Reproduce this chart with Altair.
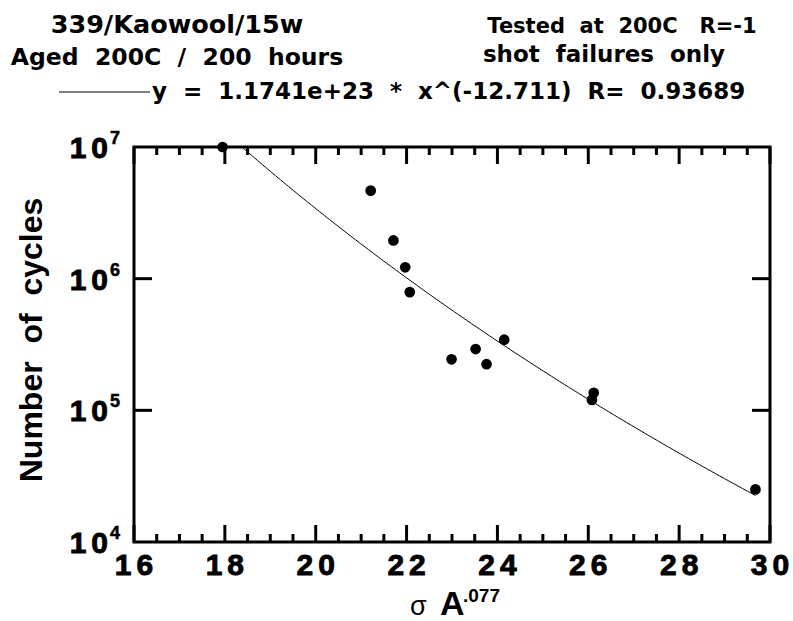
import altair as alt
import numpy as np
import pandas as pd

# ---- data ----
sigma_a = [17.95, 21.21, 21.71, 21.97, 22.07, 22.99, 23.52, 23.76, 24.15, 26.12, 26.08, 29.68]
cycles = [1.0e7, 4.66e6, 1.95e6, 1.22e6, 7.9e5, 2.44e5, 2.92e5, 2.24e5, 3.44e5, 1.36e5, 1.2e5, 2.51e4]

# power-law fit printed on the chart: y = coef * x^exp
fit_coef = 1.1741e23
fit_exp = -12.711
fit_r = 0.93689

x_major = [16, 18, 20, 22, 24, 26, 28, 30]
x_labels = ["16", "18", "20", "22", "24", "26", "28", "30"]
x_minor = [16.5, 17, 17.5, 18.5, 19, 19.5, 20.5, 21, 21.5, 22.5, 23, 23.5,
           24.5, 25, 25.5, 26.5, 27, 27.5, 28.5, 29, 29.5]
y_decades = [1e4, 1e5, 1e6, 1e7]
y_exponents = ["4", "5", "6", "7"]
y_inner = [1e5, 1e6]

x_domain = [16, 30]
y_domain = [1e4, 1e7]

# ---- layout ----
W, H = 636, 395
OX, OY = 134, 147
TOTAL_W, TOTAL_H = 793, 621

NB = "\u00a0"
GAP = "\u2006"   # six-per-em space: the digit spacing of the original labels

pts = pd.DataFrame({"s": sigma_a, "n": cycles})

# fit curve from the printed formula, from where it enters the plot to the last point
x_start = (y_domain[1] / fit_coef) ** (1.0 / fit_exp)
xf = np.linspace(x_start, max(sigma_a), 200)
fit_df = pd.DataFrame({"x": xf, "y": fit_coef * xf ** fit_exp})

xs = alt.Scale(domain=x_domain, nice=False, zero=False)
ys = alt.Scale(type="log", domain=y_domain, nice=False)

AX_FONT = "Liberation Sans"
TT_FONT = "DejaVu Sans"
ONE = alt.Data(values=[{}])
HEAVY = dict(stroke="black", strokeWidth=0.9)

fit_line = alt.Chart(fit_df).mark_line(color="black", strokeWidth=1).encode(
    x=alt.X("x:Q", scale=xs, axis=None),
    y=alt.Y("y:Q", scale=ys, axis=None),
)

def xticks(vals, length, top):
    d = pd.DataFrame({"t": vals})
    if top:
        yy, yy2 = alt.value(0), alt.value(length)
    else:
        yy, yy2 = alt.value(H), alt.value(H - length)
    return alt.Chart(d).mark_rule(color="black", strokeWidth=3).encode(
        x=alt.X("t:Q", scale=xs, axis=None), y=yy, y2=yy2)

def yticks(vals, length, right):
    d = pd.DataFrame({"v": vals})
    if right:
        xx, xx2 = alt.value(W), alt.value(W - length)
    else:
        xx, xx2 = alt.value(0), alt.value(length)
    return alt.Chart(d).mark_rule(color="black", strokeWidth=3).encode(
        y=alt.Y("v:Q", scale=ys, axis=None), x=xx, x2=xx2)

points = alt.Chart(pts).mark_circle(size=115, color="black", opacity=1).encode(
    x=alt.X("s:Q", scale=xs, axis=None),
    y=alt.Y("n:Q", scale=ys, axis=None),
)

# x tick labels, placed through the x scale
xlab_df = pd.DataFrame({"t": x_major, "lab": [l[0] + GAP + l[1:] for l in x_labels]})
xlabels = alt.Chart(xlab_df).mark_text(
    align="center", baseline="alphabetic", dy=33,
    font=AX_FONT, fontWeight="bold", fontSize=30, color="black", **HEAVY,
).encode(x=alt.X("t:Q", scale=xs, axis=None), y=alt.value(H), text="lab:N")

# y tick labels 10^n
ylab_df = pd.DataFrame({"v": y_decades, "e": y_exponents})
ylab_base = alt.Chart(ylab_df).mark_text(
    text=f"1{GAP}0", align="right", baseline="alphabetic", dx=-26, dy=11,
    font=AX_FONT, fontWeight="bold", fontSize=30, color="black", **HEAVY,
).encode(x=alt.value(0), y=alt.Y("v:Q", scale=ys, axis=None))
ylab_exp = alt.Chart(ylab_df).mark_text(
    align="left", baseline="alphabetic", dx=-24, dy=-3,
    font=AX_FONT, fontWeight="bold", fontSize=18, color="black", stroke="black", strokeWidth=0.5,
).encode(x=alt.value(0), y=alt.Y("v:Q", scale=ys, axis=None), text="e:N")


def note(text, x, y, font=TT_FONT, size=23, weight="bold", align="center", angle=0):
    return alt.Chart(ONE).mark_text(
        text=text, font=font, fontSize=size, fontWeight=weight, align=align,
        baseline="alphabetic", color="black", angle=angle,
    ).encode(x=alt.value(x - OX), y=alt.value(y - OY))


sp2 = NB + NB
title_l1 = note("339/Kaowool/15w", 177, 33, size=25.5)
title_l2 = note(f"Aged{sp2}200C{sp2}/{sp2}200{sp2}hours", 177, 65, size=23.5)
title_r1 = note(f"Tested{sp2}at{sp2}200C{NB}{NB}{NB}R=-1", 622, 33, size=21)
title_r2 = note(f"shot{sp2}failures{sp2}only", 604, 62, size=23)

legend_text = note(
    f"y{sp2}={sp2}1.1741e+23{sp2}*{sp2}x^(-12.711){sp2}R={sp2}{fit_r}",
    152, 99, size=23, align="left")
legend_line = alt.Chart(ONE).mark_rule(color="black", strokeWidth=1).encode(
    x=alt.value(59 - OX), x2=alt.value(150 - OX), y=alt.value(92 - OY))

y_title = note(f"Number{sp2}of{sp2}cycles", 42, 340, font=AX_FONT, size=32, angle=270)

xt_sigma = note("σ", 410, 615, font=AX_FONT, size=27, weight="normal", align="left")
xt_a = note("A", 440, 615, font=AX_FONT, size=34, align="left")
xt_sup = note(".077", 463, 602, font=AX_FONT, size=19, align="left")

chart = alt.layer(
    fit_line,
    xticks(x_major, 17, False), xticks(x_minor, 8, False),
    xticks(x_major, 17, True), xticks(x_minor, 8, True),
    yticks(y_inner, 18, False), yticks(y_inner, 18, True),
    points,
    xlabels, ylab_base, ylab_exp,
    title_l1, title_l2, title_r1, title_r2,
    legend_line, legend_text,
    y_title, xt_sigma, xt_a, xt_sup,
).properties(
    width=W, height=H,
    padding={"left": OX, "top": OY, "right": TOTAL_W - OX - W, "bottom": TOTAL_H - OY - H},
    autosize=alt.AutoSizeParams(type="none"),
    background="white",
).configure_view(stroke="black", strokeWidth=3)

chart.save("out.html", embed_options={"renderer": "svg", "actions": False})
